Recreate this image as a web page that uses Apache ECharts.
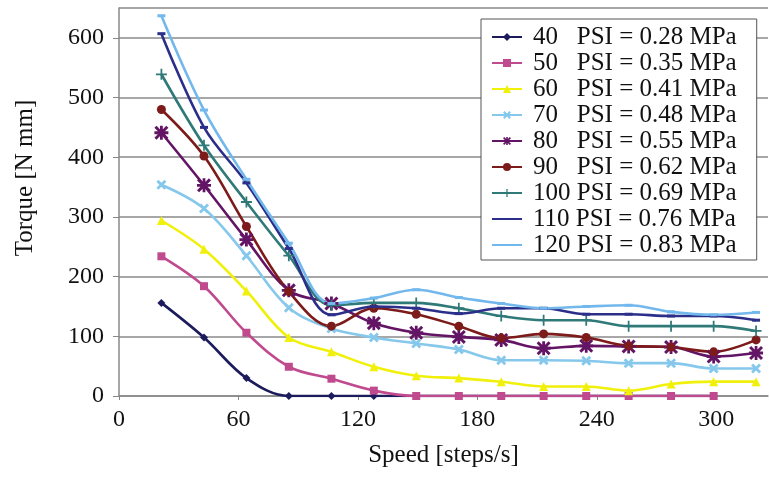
<!DOCTYPE html>
<html>
<head>
<meta charset="utf-8">
<script src="https://cdn.jsdelivr.net/npm/echarts@6/dist/echarts.min.js"></script>
<style>
  html, body { margin: 0; padding: 0; background: #fff; }
  #chart { width: 770px; height: 483px; }
</style>
</head>
<body>
<div id="chart"></div>
<script>
// speed values (steps/s) where torque was measured
const speed = [21.3, 42.7, 64, 85.3, 106.7, 128, 149.3, 170.7, 192, 213.3, 234.7, 256, 277.3, 298.7, 320]

// torque [N mm] per pressure
const psi40 = [156, 98, 30, 0, 0, 0, 0, 0, 0, 0, 0, 0, 0, 0]
const psi50 = [234, 184, 106, 49, 29, 9, 0, 0, 0, 0, 0, 0, 0, 0]
const psi60 = [294, 246, 176, 98, 74, 49, 34, 30, 24, 16, 16, 9, 20, 24, 24]
const psi70 = [354, 314, 235, 148, 113, 98, 88, 78, 60, 60, 59, 55, 55, 46, 46]
const psi80 = [441, 353, 262, 177, 155, 122, 106, 99, 94, 80, 84, 83, 82, 66, 72]
const psi90 = [480, 402, 284, 175, 117, 147, 137, 117, 97, 104, 98, 84, 82, 74, 94]
const psi100 = [539, 420, 325, 235, 152, 156, 156, 147, 134, 127, 127, 117, 117, 117, 109]
const psi110 = [607, 450, 357, 247, 136, 150, 147, 138, 147, 147, 137, 137, 134, 134, 127]
const psi120 = [637, 479, 363, 256, 155, 164, 178, 165, 155, 147, 150, 152, 141, 136, 140]

const seriesNames = [
    '40   PSI = 0.28 MPa',
    '50   PSI = 0.35 MPa',
    '60   PSI = 0.41 MPa',
    '70   PSI = 0.48 MPa',
    '80   PSI = 0.55 MPa',
    '90   PSI = 0.62 MPa',
    '100 PSI = 0.69 MPa',
    '110 PSI = 0.76 MPa',
    '120 PSI = 0.83 MPa'
]
const seriesValues = [psi40, psi50, psi60, psi70, psi80, psi90, psi100, psi110, psi120]

const colors = ['#1c1c5c', '#c04a8e', '#f0f00a', '#86c8ec', '#641464', '#7d1a1a', '#2f7a78', '#2b2f8a', '#72b8ec']

// marker shapes
const crossX = 'path://M0,2L2,0L5,3L8,0L10,2L7,5L10,8L8,10L5,7L2,10L0,8L3,5Z'
const plus = 'path://M4.2,0H5.8V4.2H10V5.8H5.8V10H4.2V5.8H0V4.2H4.2Z'
const star = 'path://M4,0H6V4H10V6H6V10H4V6H0V4H4Z M0,1.5L1.5,0L5,3.5L8.5,0L10,1.5L6.5,5L10,8.5L8.5,10L5,6.5L1.5,10L0,8.5L3.5,5Z'
const dash = 'path://M0,0H10V2H0Z'
const symbols = ['diamond', 'rect', 'triangle', crossX, star, 'circle', plus, dash, dash]
const symbolSizes = [8, 8, 9, 10, 14, 9, 11, [8, 3], [8, 3]]

const serifFont = '"Liberation Serif", "DejaVu Serif", serif'

const series = seriesNames.map((name, i) => ({
    name: name,
    type: 'line',
    smooth: 0.35,
    symbol: symbols[i],
    symbolSize: symbolSizes[i],
    showAllSymbol: true,
    lineStyle: { width: 2.6, color: colors[i] },
    itemStyle: { color: colors[i] },
    data: seriesValues[i].map((v, j) => [speed[j], v])
}))

// the last two pressures show only a line in the legend
const legendData = seriesNames.map((name, i) => i >= 7 ? { name: name, itemStyle: { opacity: 0 } } : { name: name })

const chart = echarts.init(document.getElementById('chart'), null, { renderer: 'canvas' })
chart.setOption({
    animation: false,
    color: colors,
    grid: { left: 119, right: 2, top: 8, bottom: 87 },
    legend: {
        orient: 'vertical',
        left: 481,
        top: 19,
        padding: [5, 20, 2, 10],
        itemWidth: 30,
        itemHeight: 10,
        itemGap: 0,
        backgroundColor: '#fff',
        borderColor: '#555',
        borderWidth: 1,
        borderRadius: 0,
        textStyle: {
            fontFamily: serifFont,
            fontSize: 25,
            lineHeight: 26,
            color: '#111',
            padding: [0, 0, 0, 6]
        },
        data: legendData
    },
    xAxis: {
        type: 'value',
        min: 0,
        max: 326,
        interval: 60,
        name: 'Speed [steps/s]',
        nameLocation: 'middle',
        nameGap: 47,
        nameTextStyle: { fontFamily: serifFont, fontSize: 25, color: '#111' },
        axisLine: { show: true, lineStyle: { color: '#888', width: 1.5 } },
        axisTick: { show: true, inside: false, length: 4, lineStyle: { color: '#888' } },
        axisLabel: { fontFamily: serifFont, fontSize: 24, color: '#111', margin: 12, showMaxLabel: false },
        splitLine: { show: false }
    },
    yAxis: {
        type: 'value',
        min: 0,
        max: 650,
        interval: 100,
        axisLine: { show: true, lineStyle: { color: '#888', width: 1.5 } },
        axisTick: { show: true, inside: false, length: 6, lineStyle: { color: '#888' } },
        axisLabel: { fontFamily: serifFont, fontSize: 24, color: '#111', margin: 15, showMaxLabel: false },
        splitLine: { show: true, lineStyle: { color: '#8a8a8a', width: 1.5 } }
    },
    graphic: [{
        type: 'text',
        x: 25,
        y: 178,
        rotation: Math.PI / 2,
        style: {
            text: 'Torque [N mm]',
            font: '25px "Liberation Serif", serif',
            fill: '#111',
            align: 'center',
            verticalAlign: 'middle'
        }
    }],
    series: series
})
</script>
</body>
</html>
